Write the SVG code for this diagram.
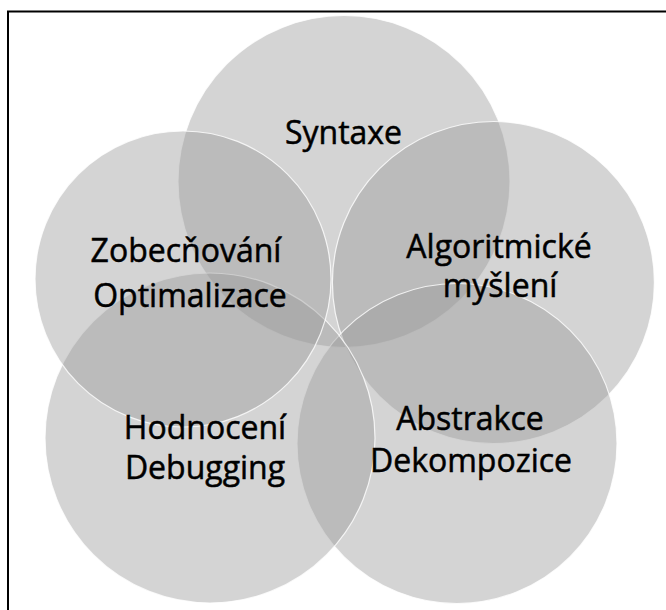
<svg xmlns="http://www.w3.org/2000/svg" width="666" height="610" viewBox="0 0 666 610">
  <style>
    .bubble { fill: #999999; fill-opacity: 0.42; stroke: #ffffff; stroke-opacity: 0.8; stroke-width: 1.2; }
    .label { font-family: "Open Sans", "Noto Sans", "DejaVu Sans", sans-serif; font-size: 32px; fill: #000000; stroke: #000000; stroke-width: 0.5; text-anchor: middle; }
  </style>
  <rect x="0" y="0" width="666" height="610" fill="#ffffff"/>
  <!-- outer frame, open to the right and bottom -->
  <rect x="8" y="11.5" width="700" height="640" fill="none" stroke="#000000" stroke-width="2"/>

  <g id="syntaxe">
    <circle class="bubble" cx="344" cy="181.5" r="166"/>
    <text class="label" x="343.5" y="144">Syntaxe</text>
  </g>
  <g id="algoritmicke-mysleni">
    <circle class="bubble" cx="493.4" cy="282.5" r="161"/>
  </g>
  <g id="abstrakce-dekompozice">
    <circle class="bubble" cx="457" cy="443.5" r="160"/>
  </g>
  <g id="hodnoceni-debugging">
    <circle class="bubble" cx="210" cy="438" r="165"/>
  </g>
  <g id="zobecnovani-optimalizace">
    <circle class="bubble" cx="183" cy="279" r="148"/>
  </g>

  <!-- labels drawn above all bubbles -->
  <g id="labels">
    <text class="label" x="186" y="262">Zobecňování</text>
    <text class="label" x="190" y="307">Optimalizace</text>
    <text class="label" x="499" y="258">Algoritmické</text>
    <text class="label" x="500" y="297">myšlení</text>
    <text class="label" x="205" y="439">Hodnocení</text>
    <text class="label" x="205" y="479">Debugging</text>
    <text class="label" x="470" y="430">Abstrakce</text>
    <text class="label" x="471" y="472">Dekompozice</text>
  </g>
</svg>
